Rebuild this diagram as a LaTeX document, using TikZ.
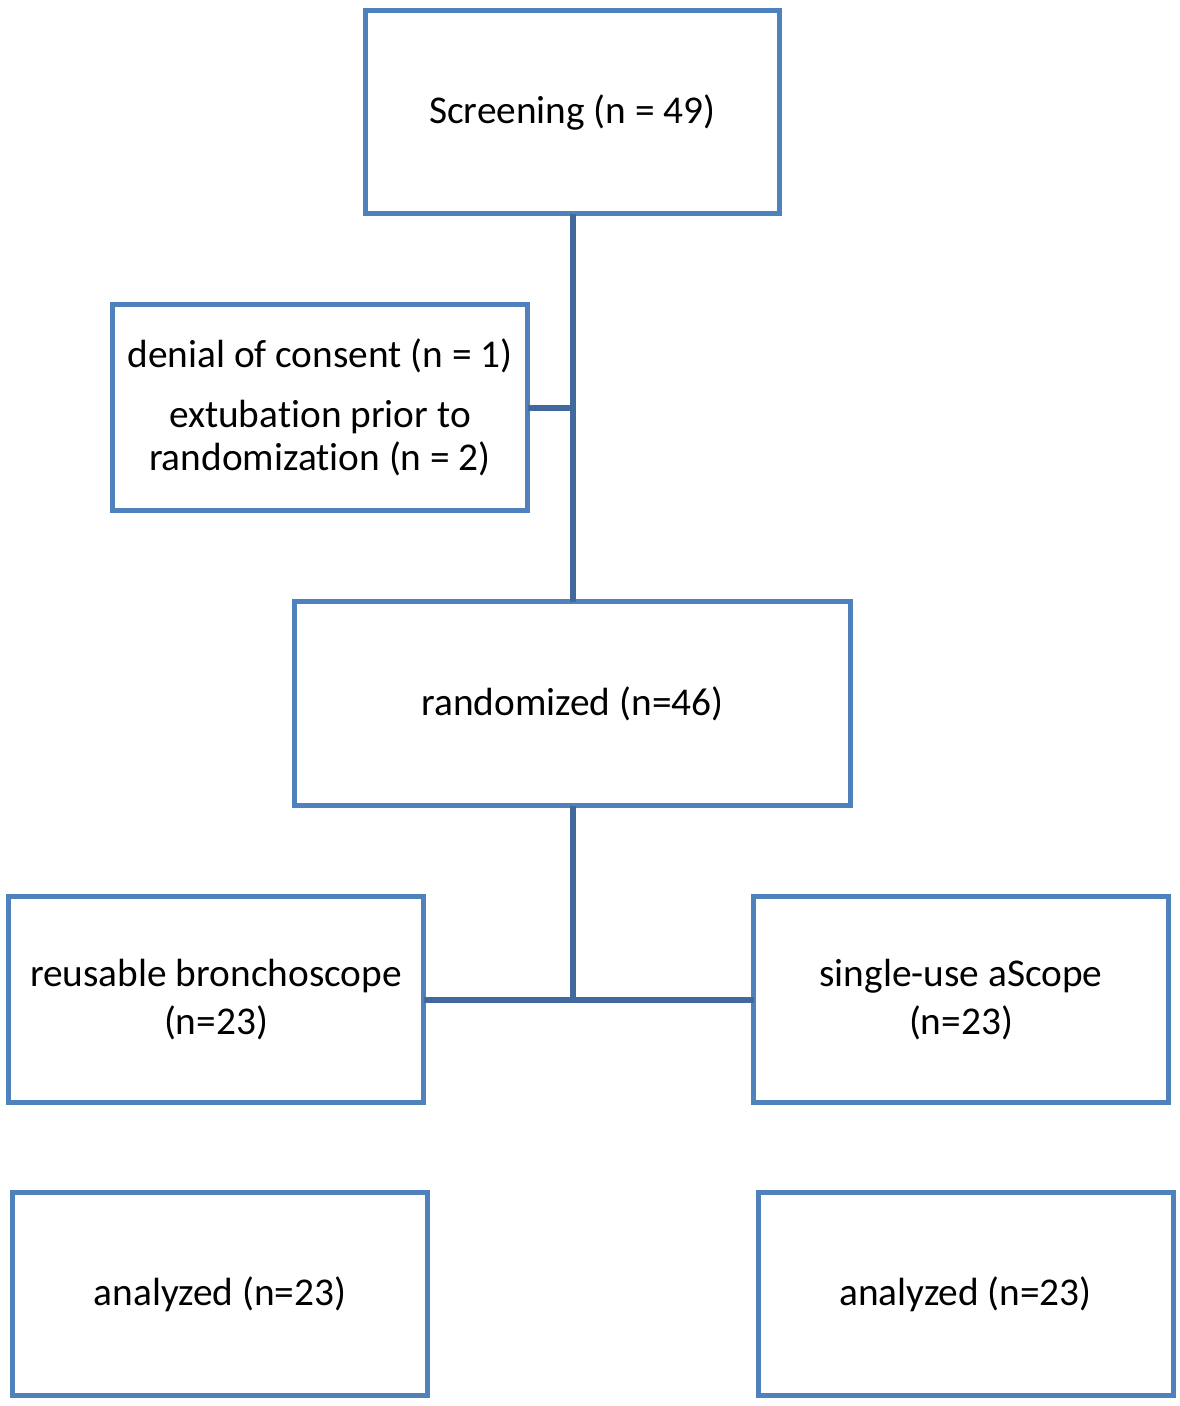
\documentclass[tikz,border=0pt]{standalone}
\usepackage{fontspec}
\setmainfont{Carlito}[Ligatures=NoCommon]
\definecolor{boxblue}{HTML}{4F81BD}
\definecolor{lineblue}{HTML}{41699E}
\begin{document}
\begin{tikzpicture}[x=0.75pt,y=-0.75pt,
  box/.style={draw=boxblue,line width=3.75pt,fill=white,rectangle,inner sep=0pt,outer sep=0pt,
    minimum width=415*0.75pt,minimum height=205*0.75pt,align=center,
    font=\fontsize{29.5pt}{36pt}\selectfont},
  conn/.style={draw=lineblue,line width=4.5pt}]
\useasboundingbox (0,0) rectangle (1180,1406);
\coordinate (jA) at (572.5,407.5);
\coordinate (jB) at (572.5,999.5);
\node[box,minimum width=414*0.75pt,minimum height=203*0.75pt] (screen) at (572.5,112) {Screening (n = 49)};
\node[box,minimum height=206*0.75pt,font=\fontsize{29.5pt}{32.25pt}\selectfont] (excl) at (320,407.5) {denial of consent (n = 1)\\[12.75pt]extubation prior to\\randomization (n = 2)};
\node[box,minimum width=556*0.75pt,minimum height=204*0.75pt] (rand) at (572.5,703.5) {randomized (n=46)};
\node[box,minimum height=206*0.75pt] (reuse) at (216,999.5) {reusable bronchoscope\\(n=23)};
\node[box,minimum height=206*0.75pt] (single) at (961,999.5) {single-use aScope\\(n=23)};
\node[box,minimum height=203*0.75pt] (anaL) at (220,1294) {analyzed (n=23)};
\node[box,minimum height=203*0.75pt] (anaR) at (965.5,1294) {analyzed (n=23)};
\draw[conn] (screen.south) -- (rand.north);
\draw[conn] (excl.east) -- (jA);
\draw[conn] (rand.south) -- (jB);
\draw[conn] (reuse.east) -- (single.west);
\end{tikzpicture}
\end{document}
